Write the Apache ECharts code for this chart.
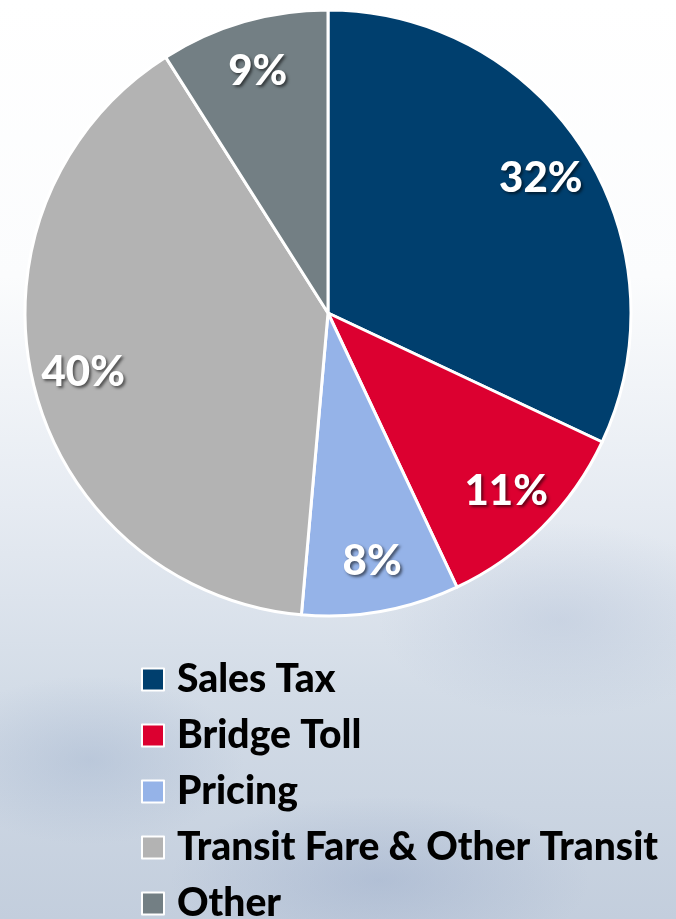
<!DOCTYPE html>
<html>
<head>
<meta charset="utf-8">
<script src="https://cdn.jsdelivr.net/npm/echarts@6/dist/echarts.min.js"></script>
<style>
  html, body { margin: 0; padding: 0; }
  body {
    width: 676px; height: 919px; overflow: hidden;
    background:
      radial-gradient(ellipse 220px 120px at 90px 760px, rgba(150,170,200,0.35), rgba(150,170,200,0) 70%),
      radial-gradient(ellipse 260px 140px at 560px 620px, rgba(170,185,210,0.35), rgba(170,185,210,0) 70%),
      radial-gradient(ellipse 300px 120px at 380px 880px, rgba(140,160,195,0.35), rgba(140,160,195,0) 70%),
      linear-gradient(180deg, #ffffff 0%, #fbfcfd 30%, #e6ebf2 55%, #d3dce7 75%, #c3cedd 100%);
  }
  /* 画布比窗口高一点，让最后一个图例项像原图那样被截掉，而不是换列 */
  #main { width: 676px; height: 960px; }
</style>
</head>
<body>
<div id="main"></div>
<script>
// 分类与数值
const categories = ['Sales Tax', 'Bridge Toll', 'Pricing', 'Transit Fare & Other Transit', 'Other'];
const values = [32, 11, 8.4, 39.6, 9];
const colors = ['#003f6e', '#dc0030', '#95b3e8', '#b3b3b3', '#737f84'];

const myChart = echarts.init(document.getElementById('main'), null, { renderer: 'canvas' });

const pieData = categories.map((name, i) => ({
  name,
  value: values[i],
  itemStyle: { color: colors[i] }
}));

const option = {
  backgroundColor: 'transparent',
  animation: false,
  legend: {
    orient: 'vertical',
    left: 136,
    top: 655,
    itemWidth: 22,
    itemHeight: 22,
    itemGap: 17,
    icon: 'rect',
    data: categories,
    textStyle: {
      fontFamily: 'Lato',
      fontWeight: 900,
      fontSize: 39,
      lineHeight: 34,
      color: '#000',
      padding: [0, 0, 0, 8]
    },
    itemStyle: { borderColor: '#fff', borderWidth: 2 }
  },
  series: [
    {
      name: 'slices',
      type: 'pie',
      center: [328, 313],
      radius: [0, 303],
      startAngle: 90,
      clockwise: true,
      silent: true,
      itemStyle: { borderColor: '#fff', borderWidth: 3 },
      label: { show: false },
      labelLine: { show: false },
      data: pieData
    },
    {
      // 透明的一层，只为把百分比标签放在靠外的位置
      name: 'labels',
      type: 'pie',
      center: [328, 313],
      radius: [200, 298],
      startAngle: 90,
      clockwise: true,
      silent: true,
      itemStyle: { color: 'transparent', borderWidth: 0 },
      percentPrecision: 0,
      label: {
        show: true,
        position: 'inside',
        formatter: '{d}%',
        fontFamily: 'Lato',
        fontWeight: 900,
        fontSize: 42,
        color: '#fff',
        textShadowColor: 'rgba(0,0,0,0.55)',
        textShadowBlur: 3,
        textShadowOffsetX: 2,
        textShadowOffsetY: 2
      },
      labelLine: { show: false },
      data: categories.map((name, i) => ({ name: name + ' ', value: values[i] }))
    }
  ]
};

option && myChart.setOption(option);
</script>
</body>
</html>
